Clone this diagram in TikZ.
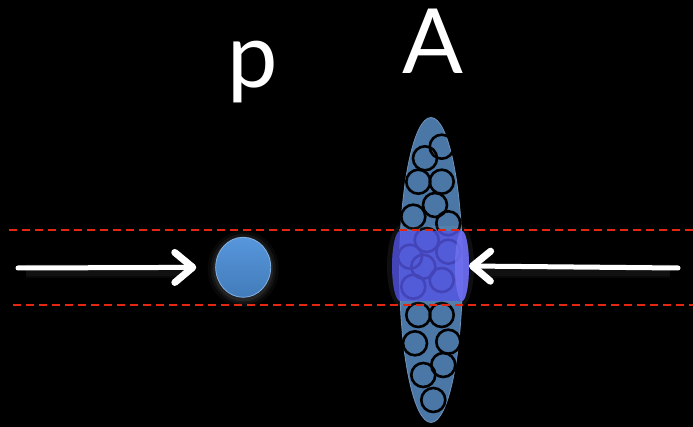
\documentclass[tikz,border=0pt]{standalone}
\usepackage{fontspec}
\setmainfont{Lato}
\usetikzlibrary{arrows.meta,shapes.geometric}
\definecolor{beamred}{RGB}{228,38,18}
\definecolor{protonblue}{RGB}{78,145,218}
\definecolor{nucblue}{RGB}{75,119,166}
\definecolor{tubeblue}{RGB}{82,82,228}
\definecolor{tubeend}{RGB}{118,118,245}

\begin{document}
\begin{tikzpicture}[x=1pt,y=-1pt,
    dashline/.style={beamred,line width=2pt,dash pattern=on 8pt off 5pt},
    ring/.style={black,line width=2.6pt},
    beamarrow/.style={white,line width=5pt,line cap=round,
      -{Straight Barb[length=18pt,width=30pt,line width=7pt,round]}},
    letter/.style={white,anchor=base,font=\fontsize{90}{90}\selectfont}]
% black backdrop
\fill[black] (0,0) rectangle (693,427);
\useasboundingbox (0,0) rectangle (693,427);

% labels
\node[letter] (plabel) at (253,88) {p};
\node[letter] (alabel) at (433,74) {A};

% the nucleus with its nucleons
\node[ellipse,minimum width=63pt,minimum height=305pt,inner sep=0pt,
      fill=nucblue,draw=nucblue!80!white,line width=0.8pt] (nuc) at (431,270) {};
\foreach \x/\y in {441.7/146.7, 425/158.3, 418.3/181.7, 441.7/181.7,
                   435/205, 413.3/216.7, 448.3/223.3,
                   426.7/240, 410/256.7, 448.3/251.7, 423.3/266.7,
                   441.7/280, 413.3/286.7,
                   418.3/315, 441.7/315, 415/343.3, 448.3/341.7,
                   443.3/365, 423.3/375, 433.3/400}
  \draw[ring] (\x,\y) circle (12pt);

% the tube cut out by the proton
\fill[white,opacity=0.06] (400,226) -- (462,226) arc(-90:90:12 and 40) -- (400,306) arc(90:270:13 and 40) -- cycle;
\fill[tubeblue,fill opacity=0.8] (400,231) arc(-90:-270:8 and 35) -- (462,301) arc(90:-90:7 and 35) -- cycle;
\fill[tubeend,fill opacity=0.7] (462,266) ellipse (7 and 35);
\coordinate (beam) at (469,266);

% beam boundaries
\draw[dashline] (9,230) -- (693,230);
\draw[dashline] (13,305) -- (693,305);

% the proton
\foreach \r/\o in {8/0.03,5/0.05,2.5/0.07}
  \fill[white,opacity=\o] (243.2,269) ellipse ({27.5+\r} and {30+\r});
\node[ellipse,minimum width=55pt,minimum height=60pt,inner sep=0pt,
      top color=protonblue!95!white,bottom color=protonblue!85!black,
      draw=protonblue!70!white,line width=0.8pt] (proton) at (243.2,267.3) {};

% incoming beams
\coordinate (lstart) at (18,268);
\coordinate (rstart) at (678,268);
\foreach \w/\o in {14/0.03,10/0.04}{
  \draw[white,opacity=\o,line width=\w pt] (lstart) ++(8,3) -- ++(160,0);
  \draw[white,opacity=\o,line width=\w pt] (rstart) ++(-8,3) -- ++(-190,0);
}
\draw[beamarrow,shorten >=19pt] (lstart) -- (proton.west);
\draw[beamarrow] (rstart) -- (beam);
\end{tikzpicture}
\end{document}
